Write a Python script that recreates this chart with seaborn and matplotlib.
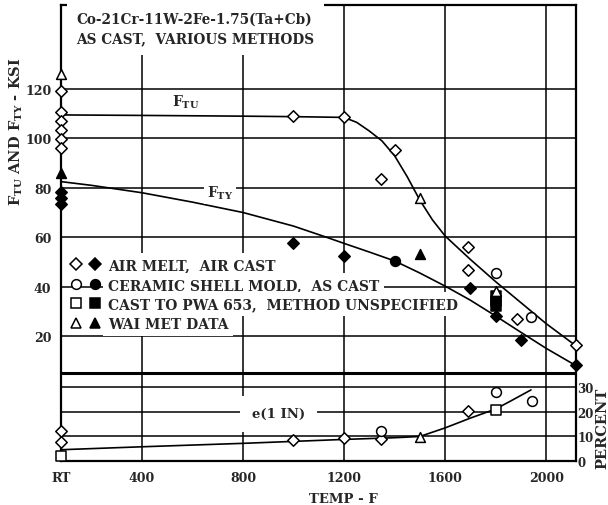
import pandas as pd
import seaborn as sns
import matplotlib.pyplot as plt
from matplotlib.lines import Line2D
from matplotlib.legend_handler import HandlerTuple

RT = 80  # room temperature sits on the left edge

# faired curves
ftu_temp = [80, 400, 800, 1000, 1200, 1250, 1300, 1350, 1400, 1450, 1500, 1550, 1600,
            1700, 1800, 1900, 2000, 2118]
ftu_ksi = [109.5, 109.3, 109.0, 108.8, 108.5, 106.5, 103.0, 99.0, 93.0, 84.5, 75.0, 67.0, 60.5,
           51.0, 42.0, 33.5, 25.0, 16.0]
fty_temp = [80, 200, 400, 600, 800, 1000, 1130, 1200, 1300, 1400, 1500, 1600, 1700, 1800,
            1900, 2000, 2118]
fty_ksi = [82.5, 81.0, 78.0, 74.2, 70.0, 64.5, 60.0, 57.5, 54.0, 50.4, 45.5, 40.2, 34.5, 28.1,
           21.5, 15.0, 8.0]
elong_temp = [80, 400, 800, 1000, 1200, 1400, 1500, 1600, 1700, 1800, 1860, 1940]
elong_pct = [4.6, 5.8, 7.2, 8.0, 8.8, 9.5, 10.0, 13.5, 17.5, 21.2, 24.5, 29.0]

# air melt, air cast (diamonds)
am_open_temp = [RT, RT, RT, RT, RT, RT, 1000, 1200, 1345, 1400, 1690, 1690, 1885, 2118]
am_open_ksi = [119.3, 110.6, 106.9, 103.4, 99.8, 96.0, 109.0, 108.7, 83.6, 95.3, 56.0, 46.7, 26.9, 16.4]
am_fill_temp = [RT, RT, RT, 1000, 1200, 1700, 1800, 1900, 2118]
am_fill_ksi = [78.5, 76.0, 73.5, 57.5, 52.4, 39.6, 28.0, 18.4, 8.3]
am_elong_temp = [RT, RT, 1000, 1200, 1345, 1690]
am_elong_pct = [12.2, 7.8, 8.6, 9.4, 9.0, 20.4]

# ceramic shell mold (circles)
cs_open_temp = [1800, 1940]
cs_open_ksi = [45.5, 27.7]
cs_fill_temp = [1400]
cs_fill_ksi = [50.4]
cs_elong_temp = [1345, 1800, 1945]
cs_elong_pct = [12.2, 28.2, 24.5]

# cast to PWA 653 (squares)
pw_fill_temp = [1800, 1800, 1800]
pw_fill_ksi = [36.0, 34.0, 32.0]
pw_elong_temp = [RT, 1800]
pw_elong_pct = [2.0, 20.8]

# WAI met data (triangles)
wm_open_temp = [RT, 1500, 1800]
wm_open_ksi = [126.0, 75.9, 38.2]
wm_fill_temp = [RT, 1500]
wm_fill_ksi = [86.0, 53.2]
wm_elong_temp = [1500]
wm_elong_pct = [9.8]

legend_labels = ["AIR MELT,  AIR CAST", "CERAMIC SHELL MOLD,  AS CAST",
                 "CAST TO PWA 653,  METHOD UNSPECIFIED", "WAI MET DATA"]
x_ticks = [RT, 400, 800, 1200, 1600, 2000]
x_labels = ["RT", "400", "800", "1200", "1600", "2000"]

sns.set_style("white")
plt.rcParams['font.family'] = ['DejaVu Serif']
plt.rcParams['font.weight'] = 'bold'
plt.rcParams['mathtext.fontset'] = 'dejavuserif'
plt.rcParams['mathtext.default'] = 'bf'

fig = plt.figure(figsize=(6.08, 5.06), dpi=100)
ax = fig.add_axes([61 / 608, 1 - 462 / 506, 515 / 608, 456 / 506])
ax2 = ax.twinx()

SIZES = {'D': 34, 'o': 50, 's': 50, '^': 50}


def dots(axis, x, y, marker, filled):
    sns.scatterplot(x=x, y=y, marker=marker, s=SIZES[marker],
                    color='black' if filled else 'white', edgecolor='black',
                    linewidth=1.1, ax=axis, zorder=5, clip_on=False, legend=False)


# curves
sns.lineplot(x=ftu_temp, y=ftu_ksi, color='black', lw=1.2, ax=ax, zorder=3)
sns.lineplot(x=fty_temp, y=fty_ksi, color='black', lw=1.2, ax=ax, zorder=3)
sns.lineplot(x=elong_temp, y=elong_pct, color='black', lw=1.2, ax=ax2, zorder=3)

# strength points
dots(ax, am_open_temp, am_open_ksi, 'D', False)
dots(ax, am_fill_temp, am_fill_ksi, 'D', True)
dots(ax, cs_open_temp, cs_open_ksi, 'o', False)
dots(ax, cs_fill_temp, cs_fill_ksi, 'o', True)
dots(ax, pw_fill_temp, pw_fill_ksi, 's', True)
dots(ax, wm_open_temp, wm_open_ksi, '^', False)
dots(ax, wm_fill_temp, wm_fill_ksi, '^', True)

# elongation points
dots(ax2, am_elong_temp, am_elong_pct, 'D', False)
dots(ax2, cs_elong_temp, cs_elong_pct, 'o', False)
dots(ax2, pw_elong_temp, pw_elong_pct, 's', False)
dots(ax2, wm_elong_temp, wm_elong_pct, '^', False)

# axes, grid
ax.set_xlim(RT, 2118)
ax.set_ylim(-30.6, 154)
ax2.set_ylim(0, 186)
ax.set_xticks(x_ticks, x_labels)
ax.set_yticks([20, 40, 60, 80, 100, 120])
ax2.set_yticks([0, 10, 20, 30])
ax.grid(True, color='black', lw=1.1)
ax2.grid(True, axis='y', color='black', lw=1.1)
ax.set_axisbelow(True)
ax.axhline(5, color='black', lw=2.2, zorder=2)
for s in ax.spines.values():
    s.set_linewidth(1.6)
    s.set_color('black')
for s in ax2.spines.values():
    s.set_visible(False)

ax.tick_params(axis='both', length=0, labelsize=9)
ax.tick_params(axis='y', pad=7)
ax.tick_params(axis='x', pad=7)
ax2.tick_params(axis='y', length=0, labelsize=8.5, pad=1)

ax.set_xlabel("TEMP - F", fontsize=9.5, fontweight='bold')
ax.xaxis.set_label_coords(0.548, -0.068)
ax.set_ylabel(r"F$_{\rm TU}$ AND F$_{\rm TY}$ - KSI", fontsize=10.5, fontweight='bold')
ax.yaxis.set_label_coords(-0.07, 0.724)
ax2.set_ylabel("PERCENT", fontsize=10.5, fontweight='bold', rotation=90, va='top')
ax2.yaxis.set_label_coords(1.037, 0.074)

white = dict(facecolor='white', edgecolor='none', boxstyle='square,pad=0.2')
ax.text(0.03, 0.985, "Co-21Cr-11W-2Fe-1.75(Ta+Cb)\nAS CAST,  VARIOUS METHODS",
        transform=ax.transAxes, va='top', ha='left', fontsize=9.8, linespacing=1.5,
        bbox=dict(facecolor='white', edgecolor='none', boxstyle='square,pad=0.7'), zorder=3)
ax.text(572, 115, r"F$_{\rm TU}$", ha='center', va='center', fontsize=10, bbox=white, zorder=3)
ax.text(710, 78, r"F$_{\rm TY}$", ha='center', va='center', fontsize=10, bbox=white, zorder=3)
ax2.text(942, 19.2, "e(1 IN)", ha='center', va='center', fontsize=9.5,
         bbox=dict(facecolor='white', edgecolor='none', boxstyle='square,pad=0.9'), zorder=3)


# legend with open/filled marker pairs
def pair(marker, ms):
    return (Line2D([], [], ls='none', marker=marker, ms=ms, mfc='white', mec='black', mew=1.1),
            Line2D([], [], ls='none', marker=marker, ms=ms, mfc='black', mec='black', mew=1.1))


handles = [pair('D', 6), pair('o', 7), pair('s', 7), pair('^', 7)]
leg = ax.legend(handles, legend_labels, handler_map={tuple: HandlerTuple(ndivide=None, pad=0.5)},
                loc='upper left', bbox_to_anchor=(0.005, 0.46), fontsize=10, frameon=False,
                handlelength=2.2, handletextpad=0.5, labelspacing=0.4, borderpad=0.3,
                borderaxespad=0.2)
# only the label text blanks out the grid, like the original
for t in leg.get_texts():
    t.set_bbox(dict(facecolor='white', edgecolor='none', boxstyle='square,pad=0.35'))
leg.set_zorder(2.8)

fig.savefig("out.png", dpi=100)
